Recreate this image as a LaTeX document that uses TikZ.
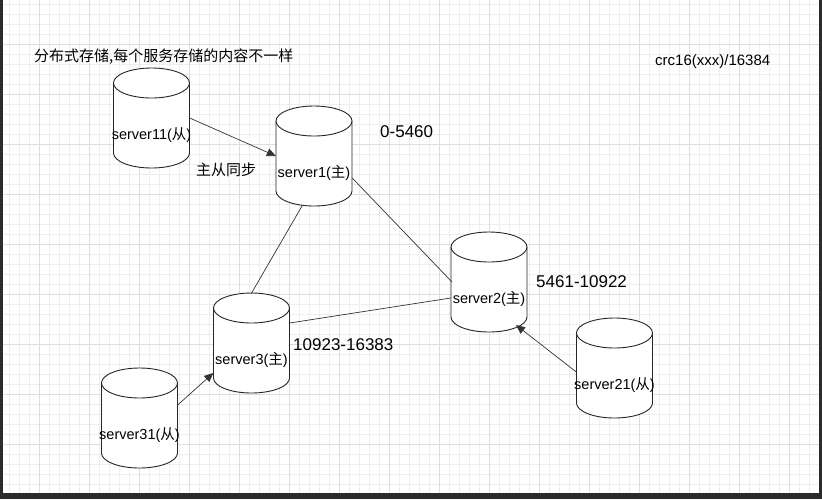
\documentclass[tikz,border=0pt]{standalone}
\usepackage{fontspec}
\usetikzlibrary{arrows.meta}
\setmainfont{Liberation Sans}
\newfontfamily\cjk{Noto Sans CJK SC}
\definecolor{gmin}{HTML}{EEEEEE}
\definecolor{gmaj}{HTML}{DEDEDE}
\definecolor{frame}{HTML}{2B2B2B}
\newcommand\mycyl[4]{% name, cx, top y, label
  \node[minimum width=76pt,minimum height=100pt,inner sep=0pt] (#1) at (#2,#3+50) {};
  \draw[cyl] (#2-38,#3+15) -- (#2-38,#3+85) arc[start angle=180,end angle=0,x radius=38,y radius=15] -- (#2+38,#3+15);
  \draw[cyl] (#2,#3+15) ellipse[x radius=38,y radius=15];
  \node[lbl] at (#2,#3+67) {#4};
}
\begin{document}
\begin{tikzpicture}[x=1pt,y=-1pt,
  cyl/.style={draw=black!85,line width=0.9pt,fill=white},
  lbl/.style={font=\fontsize{14.5}{16}\selectfont,inner sep=0pt},
  num/.style={font=\fontsize{17}{19}\selectfont,inner sep=0pt,anchor=west},
  conn/.style={draw=black!80,line width=0.7pt},
  arr/.style={conn,-{Triangle[length=9pt,width=8pt]}}]
\fill[white] (0,0) rectangle (822,499);
\useasboundingbox (0,0) rectangle (822,499);
\foreach \x in {0,10,...,820} \draw[gmin,line width=0.5pt] (\x-1,0) -- (\x-1,499);
\foreach \y in {0,10,...,490} \draw[gmin,line width=0.5pt] (0,\y+4) -- (822,\y+4);
\foreach \x in {40,90,...,820} \draw[gmaj,line width=0.7pt] (\x-1,0) -- (\x-1,499);
\foreach \y in {44,94,...,494} \draw[gmaj,line width=0.7pt] (0,\y) -- (822,\y);
\fill[frame] (0,0) rectangle (2.5,499);
\fill[frame] (819,0) rectangle (822,499);
\fill[frame] (0,493) rectangle (822,499);
\mycyl{s11}{151.5}{68}{server11({\cjk 从})}
\mycyl{s1}{314}{106}{server1({\cjk 主})}
\mycyl{s2}{489}{232}{server2({\cjk 主})}
\mycyl{s3}{251.5}{293}{server3({\cjk 主})}
\mycyl{s31}{139.5}{368}{server31({\cjk 从})}
\mycyl{s21}{614.5}{318}{server21({\cjk 从})}
\node[anchor=west,inner sep=0pt,font=\cjk\fontsize{15}{17}\selectfont] (title) at (34,57) {分布式存储,每个服务存储的内容不一样};
\node[inner sep=0pt,font=\cjk\fontsize{15}{17}\selectfont] (sync) at (226,170) {主从同步};
\node[num] (r1) at (380,132) {0-5460};
\node[num] (r2) at (536,282) {5461-10922};
\node[num] (r3) at (293,345) {10923-16383};
\node[anchor=west,inner sep=0pt,font=\fontsize{15}{17}\selectfont] (crc) at (655,62) {crc16(xxx)/16384};
\draw[arr] (s11.east |- 0,118) -- (s1.west |- 0,156);
\draw[conn] (302,206) -- (251,294);
\draw[conn] (s1.east |- 0,178) -- (452,282);
\draw[conn] (s3.east |- 0,323) -- (s2.west |- 0,298);
\draw[arr] (s31.east |- 0,405) -- (s3.west |- 0,373);
\draw[arr] (s21.west |- 0,372) -- (516,325);
\end{tikzpicture}
\end{document}
